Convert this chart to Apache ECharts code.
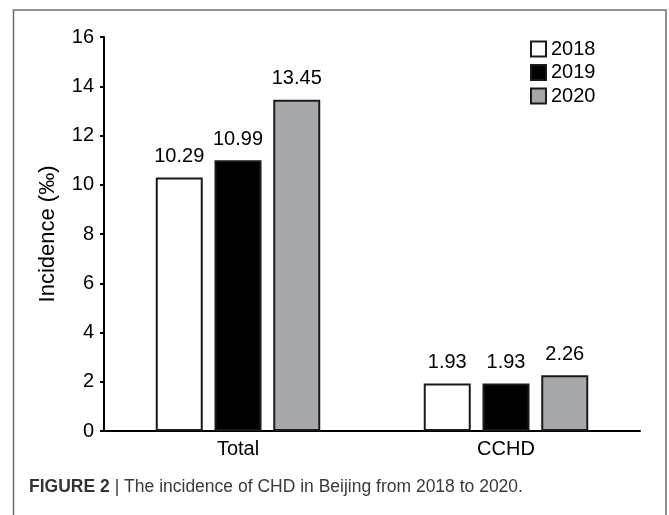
<!DOCTYPE html>
<html><head><meta charset="utf-8">
<script src="https://cdn.jsdelivr.net/npm/echarts@6/dist/echarts.min.js"></script>
<style>html,body{margin:0;padding:0;background:#fff}#c{width:669px;height:515px}</style>
</head><body><div id="c"></div>
<script>
const categories = ['Total', 'CCHD'];
const years = ['2018', '2019', '2020'];
const values2018 = [10.29, 1.93];
const values2019 = [10.99, 1.93];
const values2020 = [13.45, 2.26];
const yTicks = [0, 2, 4, 6, 8, 10, 12, 14, 16];
const fills = ['#ffffff', '#000000', '#a7a8ab'];
const FONT = '"Liberation Sans", Arial, sans-serif';

const seriesData = [values2018, values2019, values2020];
const chart = echarts.init(document.getElementById('c'), null, {renderer: 'canvas'});
chart.setOption({
  animation: false,
  backgroundColor: '#fff',
  textStyle: {fontFamily: FONT},
  grid: {left: 104, right: 29, top: 37, bottom: 84, containLabel: false},
  legend: {
    orient: 'vertical', left: 525, top: 34, icon: 'rect',
    itemWidth: 15, itemHeight: 15, itemGap: 3.5,
    textStyle: {fontSize: 20, color: '#000', fontFamily: FONT, lineHeight: 20},
    data: years
  },
  xAxis: {
    type: 'category', data: categories,
    axisLine: {lineStyle: {color: '#000', width: 2}},
    axisTick: {show: false},
    axisLabel: {fontSize: 20, color: '#000', margin: 8, fontFamily: FONT}
  },
  yAxis: {
    type: 'value', min: yTicks[0], max: yTicks[yTicks.length - 1], interval: 2,
    name: 'Incidence (‰)', nameLocation: 'middle', nameGap: 45,
    nameTextStyle: {fontSize: 22, color: '#000', fontFamily: FONT},
    axisLine: {show: true, lineStyle: {color: '#000', width: 2}},
    axisTick: {show: true, length: 4, lineStyle: {color: '#000', width: 2}},
    axisLabel: {fontSize: 20, color: '#000', margin: 10, fontFamily: FONT},
    splitLine: {show: false}
  },
  series: years.map((y, i) => ({
    name: y, type: 'bar', data: seriesData[i],
    barWidth: 47, barGap: '25%',
    itemStyle: {color: fills[i], borderColor: '#1a1a1a', borderWidth: 2},
    label: {show: true, position: 'top', distance: 11, fontSize: 20, color: '#000', fontFamily: FONT,
      formatter: p => p.value.toFixed(2)}
  })),
  title: {
    left: 24, top: 473,
    text: '{b|FIGURE 2} {n|| The incidence of CHD in Beijing from 2018 to 2020.}',
    textStyle: {
      fontWeight: 'normal',
      rich: {
        b: {fontSize: 17.5, fontWeight: 'bold', color: '#333', fontFamily: FONT},
        n: {fontSize: 17.5, fontWeight: 'normal', color: '#3a3a3a', fontFamily: FONT}
      }
    }
  },
  graphic: [{
    type: 'polyline', silent: true,
    shape: {points: [[13.5, 515], [13.5, 10], [666, 10], [666, 515]]},
    style: {stroke: '#6e6e6e', lineWidth: 1.5, fill: null}
  }]
});
</script></body></html>
